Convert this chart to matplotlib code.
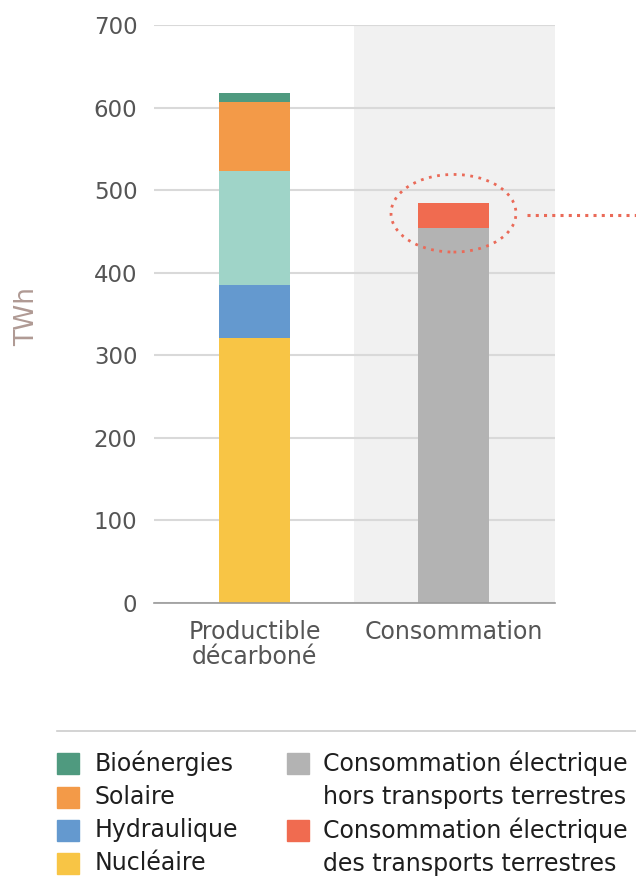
import matplotlib.pyplot as plt
from matplotlib.patches import Ellipse, Rectangle
from matplotlib.lines import Line2D

# Categories and stacked values (TWh)
categories = ['Productible\ndécarboné', 'Consommation']
prod_labels = ['Nucléaire', 'Hydraulique', 'Éolien', 'Solaire', 'Bioénergies']
prod_values = [321, 64, 138, 84, 11]
prod_colors = ['#f8c545', '#6499cf', '#9fd4c8', '#f39a48', '#4f9a7f']
conso_labels = ['Consommation électrique\nhors transports terrestres',
                'Consommation électrique\ndes transports terrestres']
conso_values = [454, 30]
conso_colors = ['#b3b3b3', '#f06b50']
yticks = [0, 100, 200, 300, 400, 500, 600, 700]

# legend entries (as shown in the original, no wind entry)
leg_left = ['Bioénergies', 'Solaire', 'Hydraulique', 'Nucléaire']
leg_left_colors = ['#4f9a7f', '#f39a48', '#6499cf', '#f8c545']

H = 888
W = 636
fig = plt.figure(figsize=(6.36, 8.88), dpi=100)
ax = fig.add_axes([154 / W, 1 - 603 / H, 401 / W, 578 / H])

xlim = (-0.505, 1.51)
bar_w = 0.352

# grey background band behind the consumption bar
ax.axvspan(0.5, xlim[1], color='#f1f1f1', zorder=0, lw=0)

# stacked production bar
bottom = 0
for v, c in zip(prod_values, prod_colors):
    ax.bar(0, v, bottom=bottom, width=bar_w, color=c, zorder=3)
    bottom += v

# stacked consumption bar
bottom = 0
for v, c in zip(conso_values, conso_colors):
    ax.bar(1, v, bottom=bottom, width=bar_w, color=c, zorder=3)
    bottom += v

ax.set_xlim(*xlim)
ax.set_ylim(0, 700)
ax.set_yticks(yticks)
ax.set_yticklabels([str(t) for t in yticks], fontsize=16.5, color='#555555')
ax.set_xticks([0, 1])
ax.set_xticklabels(categories, fontsize=17, color='#555555', linespacing=1.05)
ax.tick_params(length=0, pad=12)
ax.tick_params(axis='x', pad=12)

ax.grid(axis='y', color='#d9d9d9', lw=1.5, zorder=1)
ax.set_axisbelow(True)
for s in ['top', 'right', 'left']:
    ax.spines[s].set_visible(False)
ax.spines['bottom'].set_color('#9a9a9a')
ax.spines['bottom'].set_linewidth(1.2)
ax.spines['bottom'].set_zorder(4)

fig.text(27 / W, 1 - 317 / H, 'TWh', rotation=90, ha='center', va='center',
         fontsize=19, color='#b09a94')

# dotted highlight around transport consumption
total = sum(conso_values)
ell = Ellipse((1.0, total - 12), 0.628, 94, fill=False, ec='#ea6a58',
              ls=(0, (1, 2)), lw=2, zorder=5, clip_on=False)
ax.add_patch(ell)
ax.plot([1.37, 1.92], [total - 14, total - 14], color='#ea6a58', ls=(0, (1, 1.7)),
        lw=2.2, clip_on=False, zorder=5)

# legend separator
fig.add_artist(Line2D([57 / W, 1], [1 - 731 / H] * 2, color='#cccccc', lw=1.2))

# legend, left column
row_y = [763, 797, 830, 863]
for name, c, y in zip(leg_left, leg_left_colors, row_y):
    fig.add_artist(Rectangle((57 / W, 1 - (y + 11) / H), 22 / W, 21 / H,
                             color=c, transform=fig.transFigure))
    fig.text(95 / W, 1 - y / H, name, fontsize=17, color='#1e1e1e', va='center')

# legend, right column (two lines per entry)
for name, c, y in zip(conso_labels, conso_colors, [row_y[0], row_y[2]]):
    fig.add_artist(Rectangle((287 / W, 1 - (y + 11) / H), 22 / W, 21 / H,
                             color=c, transform=fig.transFigure))
    for k, line in enumerate(name.split('\n')):
        fig.text(323 / W, 1 - (y + 34 * k) / H, line, fontsize=17,
                 color='#1e1e1e', va='center')

fig.savefig('out.png', dpi=100)
